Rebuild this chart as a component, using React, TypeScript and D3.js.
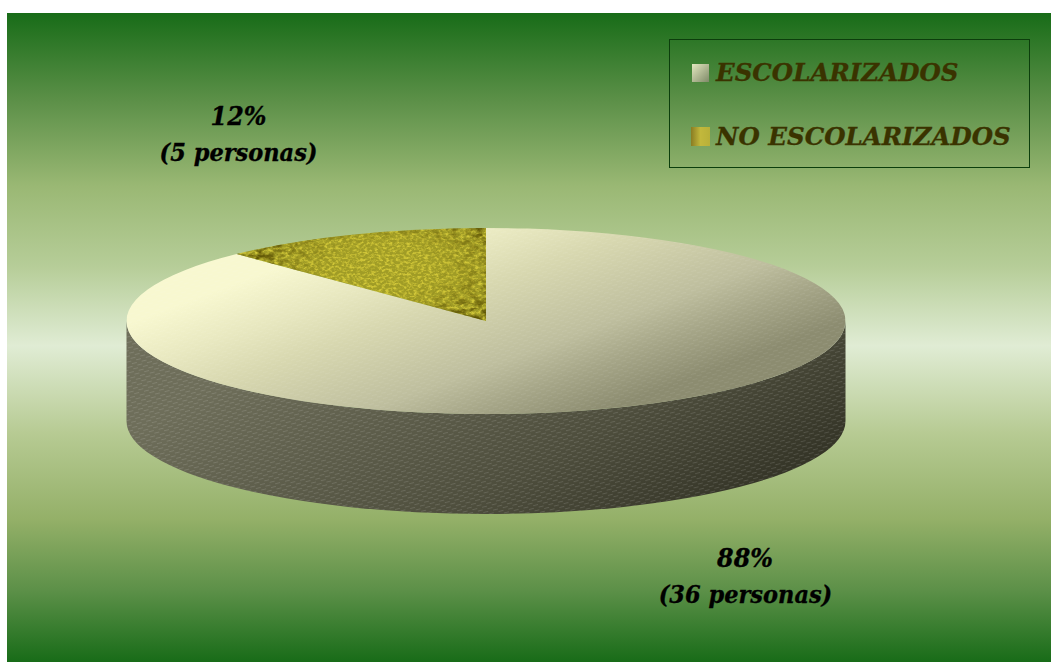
import React from "react";
import * as d3 from "d3";

const categories = ["ESCOLARIZADOS", "NO ESCOLARIZADOS"];
const personas = [36, 5];
const percentLabels = ["88%", "12%"];
const personLabels = ["(36 personas)", "(5 personas)"];

const W = 1051, H = 662;
const cx = 486, cy = 321, rx = 359.5, ry = 93, depth = 100;
const labelFont = "'DejaVu Serif Condensed', 'DejaVu Serif', serif";
const legendFont = "'DejaVu Serif', serif";

const pieGen = d3.pie<number>().sort(null).startAngle(0).endAngle(2 * Math.PI);
const arcs = pieGen(personas);
const arcGen = d3.arc<d3.PieArcDatum<number>>().innerRadius(0).outerRadius(rx);

const xScale = d3.scaleLinear().domain([-1, 1]).range([cx - rx, cx + rx]);
const sidePath = (() => {
  const l = xScale(-1), r = xScale(1);
  return `M${l},${cy} L${l},${cy + depth} A${rx},${ry} 0 0 0 ${r},${cy + depth} L${r},${cy} A${rx},${ry} 0 0 1 ${l},${cy} Z`;
})();

const bgStops: [number, string][] = [
  [0, "#186c18"], [0.135, "#5c9048"], [0.267, "#9ab874"], [0.39, "#b6cd98"],
  [0.513, "#e0ecd4"], [0.65, "#b6ca92"], [0.78, "#94b068"], [0.89, "#5c9048"], [1, "#186c18"],
];

const faceTransform = `translate(${cx},${cy}) scale(1,${ry / rx})`;

export default function App() {
  return (
    <svg width={W} height={H} style={{ position: "absolute", left: 0, top: 0, background: "#fff" }}>
      <defs>
        <linearGradient id="bg" x1="0" y1="0" x2="0" y2="1">
          {bgStops.map(([o, c]) => <stop key={o} offset={o} stopColor={c} />)}
        </linearGradient>
        <linearGradient id="top" gradientUnits="userSpaceOnUse" x1={134} y1={321} x2={220} y2={553}>
          <stop offset="0" stopColor="#f8f8d0" />
          <stop offset="0.19" stopColor="#e8e8c0" />
          <stop offset="0.36" stopColor="#d8d8b0" />
          <stop offset="0.67" stopColor="#bebe9e" />
          <stop offset="0.82" stopColor="#a6a688" />
          <stop offset="1" stopColor="#8c8c70" />
        </linearGradient>
        <linearGradient id="side" gradientUnits="userSpaceOnUse" x1={129} y1={432} x2={342} y2={798}>
          <stop offset="0" stopColor="#6e6e5a" />
          <stop offset="0.55" stopColor="#4e4e3d" />
          <stop offset="1" stopColor="#2a2a1e" />
        </linearGradient>
        <pattern id="dots" width="10" height="5.4" patternUnits="userSpaceOnUse" patternTransform="rotate(-14)">
          <rect x="0" y="1" width="5" height="0.9" fill="#fff" fillOpacity="0.14" />
          <rect x="5" y="3.7" width="5" height="0.9" fill="#fff" fillOpacity="0.14" />
        </pattern>
        <pattern id="dotsTop" width="10" height="5.4" patternUnits="userSpaceOnUse" patternTransform="rotate(-14)">
          <rect x="0" y="1" width="5" height="0.9" fill="#fff" fillOpacity="0.08" />
          <rect x="5" y="3.7" width="5" height="0.9" fill="#fff" fillOpacity="0.08" />
        </pattern>
        <filter id="tex" x="0" y="0" width="1" height="1" colorInterpolationFilters="sRGB">
          <feTurbulence type="fractalNoise" baseFrequency="0.28 0.42" numOctaves="3" seed="7" result="n" />
          <feColorMatrix in="n" type="matrix" values="0 0 0 0 0.82  0 0 0 0 0.78  0 0 0 0 0.22  3.2 0 0 0 -1.35" result="light" />
          <feFlood floodColor="#a09c26" result="base" />
          <feMerge result="m"><feMergeNode in="base" /><feMergeNode in="light" /></feMerge>
          <feComposite in="m" in2="SourceAlpha" operator="in" />
        </filter>
        <filter id="spots" x="0" y="0" width="1" height="1" colorInterpolationFilters="sRGB">
          <feTurbulence type="fractalNoise" baseFrequency="0.12 0.2" numOctaves="3" seed="11" result="n" />
          <feColorMatrix in="n" type="matrix" values="0 0 0 0 0.32  0 0 0 0 0.28  0 0 0 0 0  0 3.2 0 0 -1.25" />
        </filter>
        <radialGradient id="maskGrad" gradientUnits="userSpaceOnUse" cx={0} cy={0} r={1} gradientTransform="translate(385,268) scale(130,60)">
          <stop offset="0.4" stopColor="#000" />
          <stop offset="0.8" stopColor="#777" />
          <stop offset="1" stopColor="#ddd" />
        </radialGradient>
        <mask id="edge" maskUnits="userSpaceOnUse" x={220} y={220} width={280} height={110}>
          <rect x={220} y={220} width={280} height={110} fill="url(#maskGrad)" />
        </mask>
        <linearGradient id="leg1" x1="0" y1="0" x2="1" y2="1">
          <stop offset="0" stopColor="#e4e8c0" />
          <stop offset="1" stopColor="#7f8a68" />
        </linearGradient>
        <linearGradient id="leg2" x1="0" y1="0" x2="1" y2="0">
          <stop offset="0" stopColor="#8a7c22" />
          <stop offset="0.5" stopColor="#c2b83c" />
          <stop offset="1" stopColor="#b8b038" />
        </linearGradient>
        <clipPath id="c0"><path transform={faceTransform} d={arcGen(arcs[0]) ?? ""} /></clipPath>
        <clipPath id="c1"><path transform={faceTransform} d={arcGen(arcs[1]) ?? ""} /></clipPath>
      </defs>

      <rect x={7} y={13} width={W - 7} height={H - 13} fill="url(#bg)" />

      <path d={sidePath} fill="url(#side)" />
      <path d={sidePath} fill="url(#dots)" />

      <g clipPath="url(#c0)">
        <rect x={cx - rx} y={cy - ry} width={2 * rx} height={2 * ry} fill="url(#top)" />
        <rect x={cx - rx} y={cy - ry} width={2 * rx} height={2 * ry} fill="url(#dotsTop)" />
      </g>
      <g clipPath="url(#c1)">
        <rect x={230} y={cy - ry} width={260} height={ry} fill="#000" filter="url(#tex)" />
        <g mask="url(#edge)">
          <rect x={230} y={cy - ry} width={260} height={ry} fill="#000" filter="url(#spots)" />
        </g>
      </g>

      <g fontFamily={labelFont} fontWeight="bold" fontStyle="italic" fill="#000" stroke="#000" strokeWidth={0.3} textAnchor="middle">
        <text x={238.5} y={125} fontSize={26.5}>{percentLabels[1]}</text>
        <text x={238.5} y={161} fontSize={25}>{personLabels[1]}</text>
        <text x={745} y={567} fontSize={26.5}>{percentLabels[0]}</text>
        <text x={745.5} y={603} fontSize={25}>{personLabels[0]}</text>
      </g>

      <rect x={669.5} y={39.5} width={360} height={128} fill="none" stroke="#0c3e0c" strokeWidth={1} />
      <rect x={692} y={64} width={17} height={18} fill="url(#leg1)" />
      <rect x={691} y={127} width={19} height={19} fill="url(#leg2)" />
      <g fontFamily={legendFont} fontWeight="bold" fontStyle="italic" fill="#3a3300" stroke="#3a3300" strokeWidth={0.3} fontSize={24.5}>
        <text x={716} y={81}>{categories[0]}</text>
        <text x={716} y={145}>{categories[1]}</text>
      </g>
    </svg>
  );
}
